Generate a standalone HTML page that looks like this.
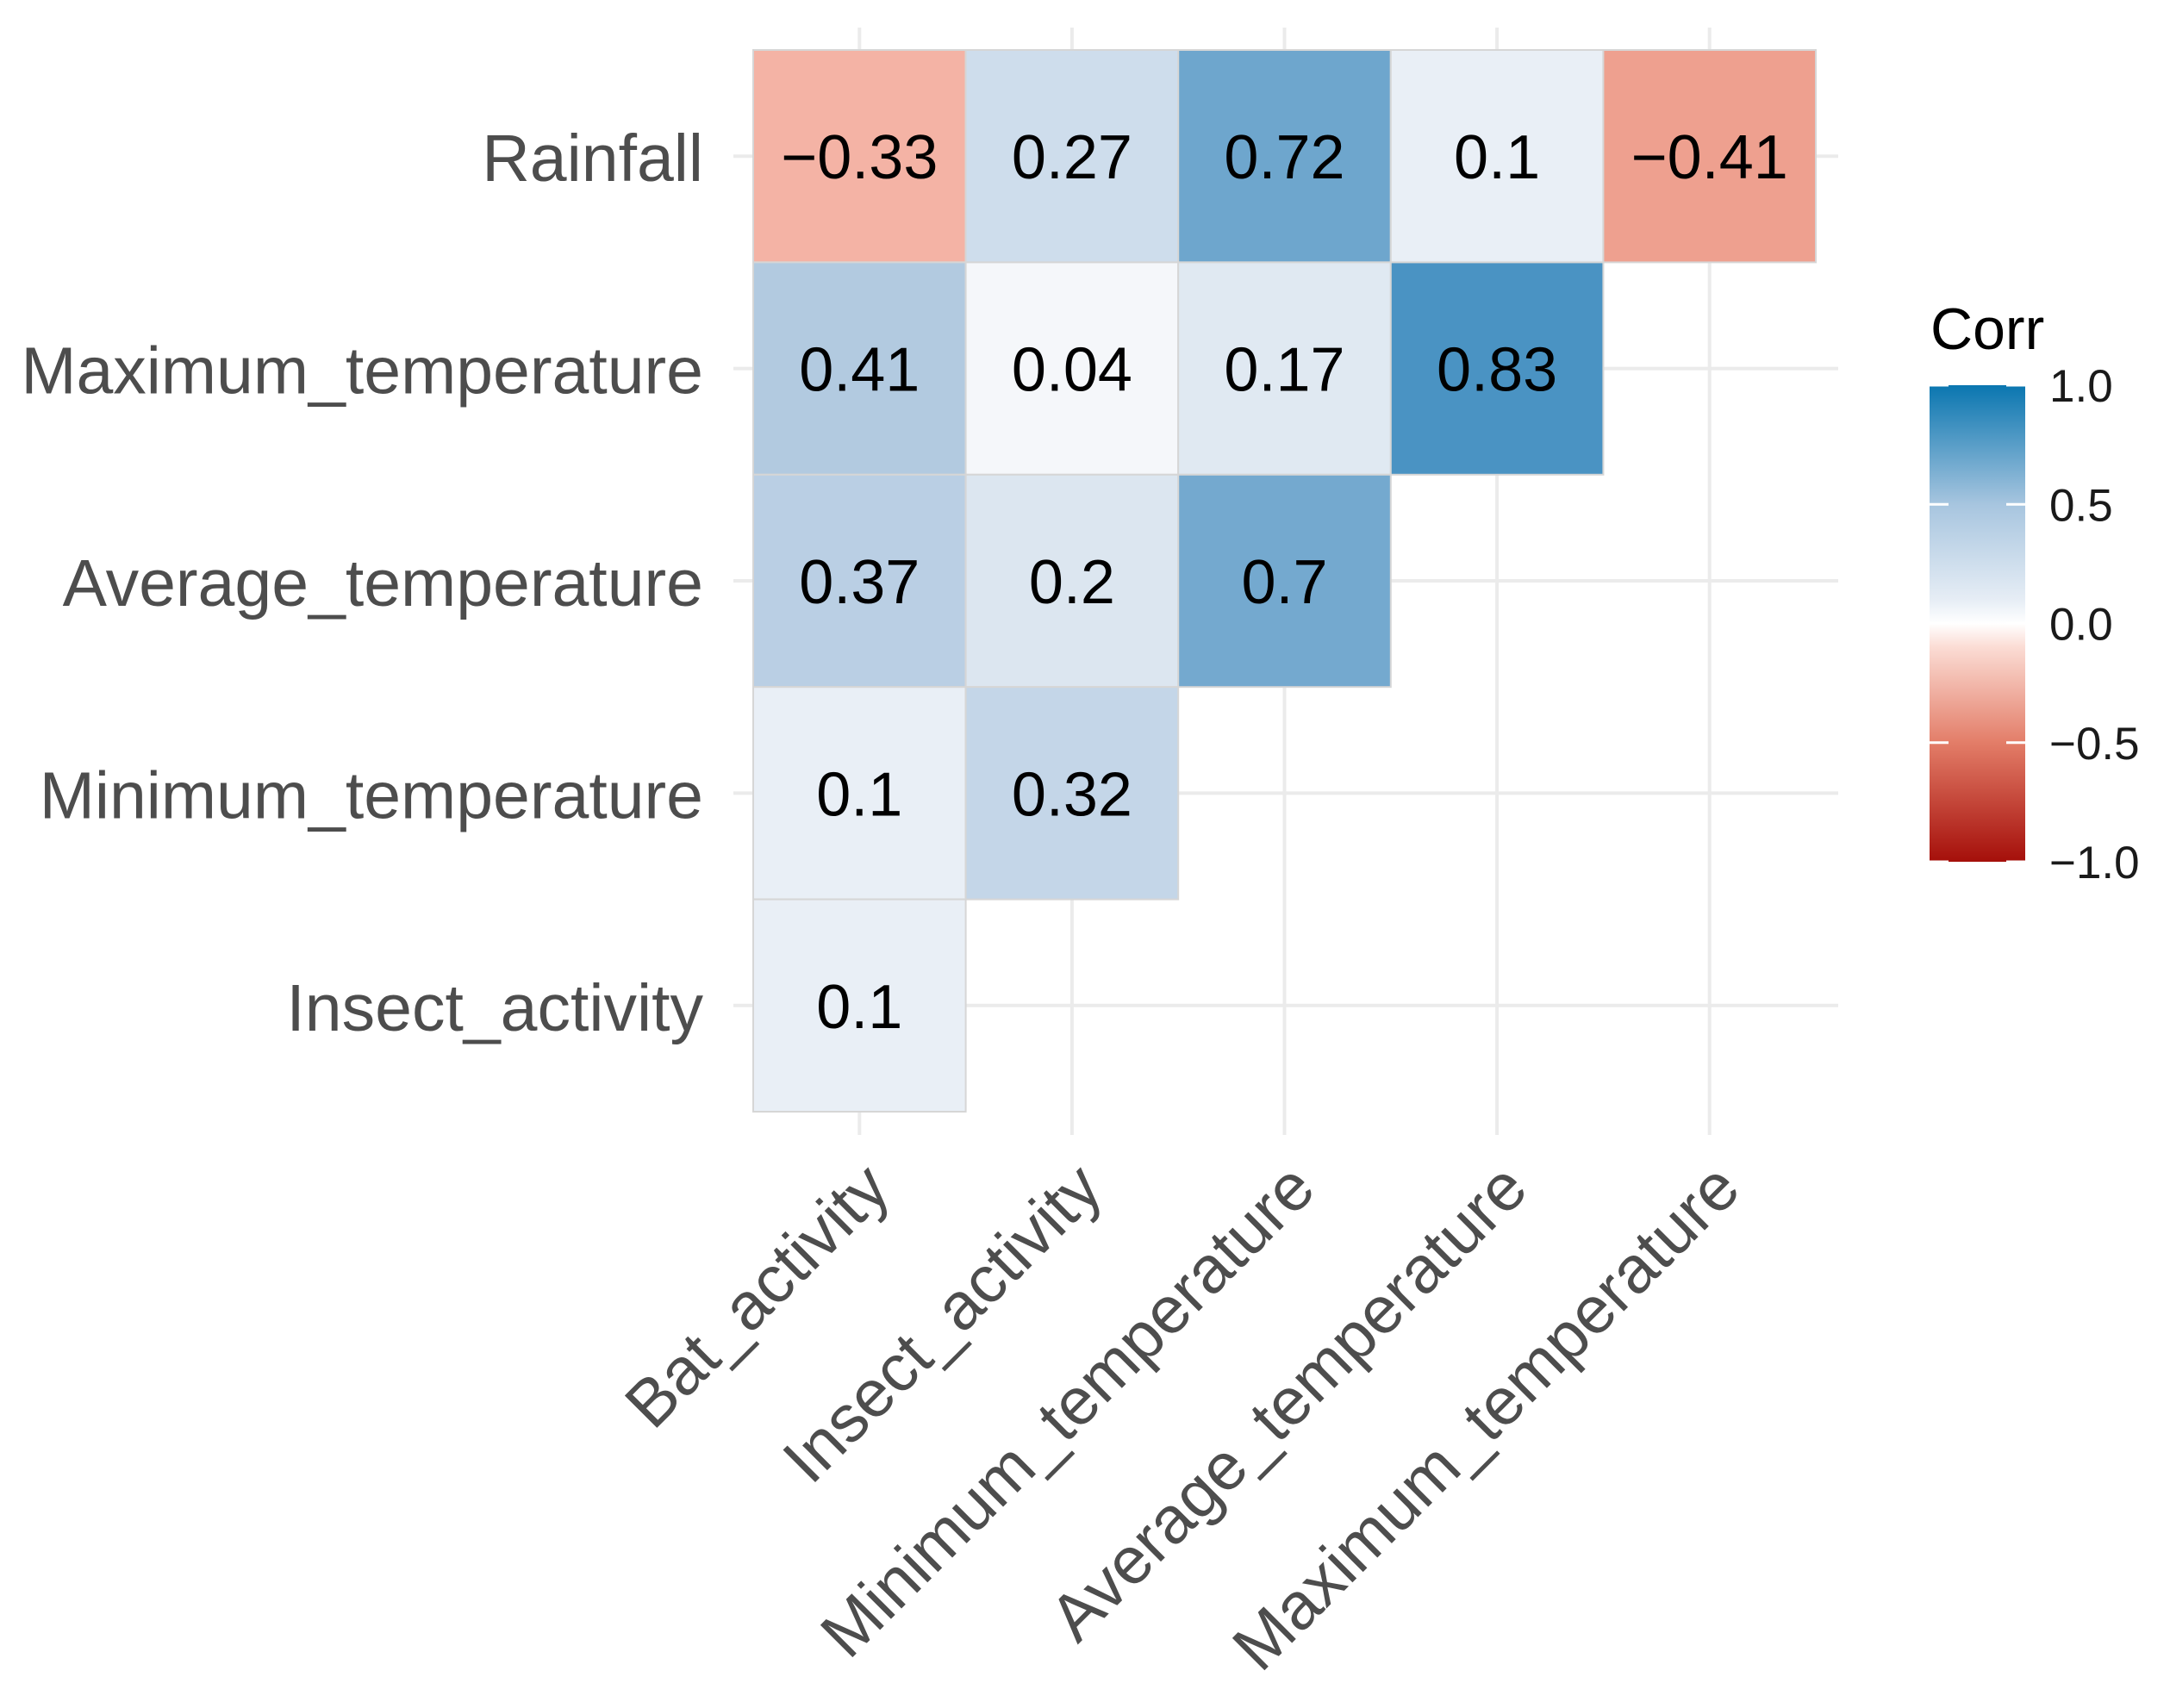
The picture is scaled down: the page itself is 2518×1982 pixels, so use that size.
<!DOCTYPE html>
<html><head><meta charset="utf-8"><style>
html,body{margin:0;padding:0;background:#fff;}
svg{display:block;font-family:"Liberation Sans",Arial,sans-serif;}
</style></head><body>
<svg id="chart" width="2518" height="1982" viewBox="0 0 2518 1982" xmlns="http://www.w3.org/2000/svg">
<defs>
<linearGradient id="grad" x1="0" y1="1" x2="0" y2="0">
<stop offset="0" stop-color="#a50f0a"/>
<stop offset="0.25" stop-color="#e37d68"/>
<stop offset="0.45" stop-color="#fbdcd4"/>
<stop offset="0.5" stop-color="#ffffff"/>
<stop offset="0.55" stop-color="#e6edf5"/>
<stop offset="0.75" stop-color="#a7c5df"/>
<stop offset="1" stop-color="#0a76b0"/>
</linearGradient>
</defs>
<g id="grid"></g>
<g id="cells"></g>
<g id="ylabels"></g>
<g id="xlabels"></g>
<g id="legend">
<text x="2240" y="405" font-size="68" fill="#000">Corr</text>
<rect x="2239" y="447" width="111" height="553" fill="url(#grad)"/>
</g>
</svg>
<script>
const rowLabels = ["Rainfall","Maximum_temperature","Average_temperature","Minimum_temperature","Insect_activity"];
const colLabels = ["Bat_activity","Insect_activity","Minimum_temperature","Average_temperature","Maximum_temperature"];
const rowRainfall = [-0.33, 0.27, 0.72, 0.1, -0.41];
const rowMaxTemp = [0.41, 0.04, 0.17, 0.83];
const rowAvgTemp = [0.37, 0.2, 0.7];
const rowMinTemp = [0.1, 0.32];
const rowInsect = [0.1];
const legendTicks = [1.0, 0.5, 0.0, -0.5, -1.0];
const legendTickLabels = ["1.0","0.5","0.0","\u22120.5","\u22121.0"];

const rows = [rowRainfall,rowMaxTemp,rowAvgTemp,rowMinTemp,rowInsect];
const NS="http://www.w3.org/2000/svg";
const X0=874, Y0=58, CW=246.6, CH=246.4;
const xCenter = i => X0 + CW*(i+0.5);
const yCenter = j => Y0 + CH*(j+0.5);
const legY = v => 447 + (1 - v)/2*553;

const stops=[[-1,[165,15,10]],[-0.5,[227,125,104]],[-0.41,[238,160,143]],[-0.33,[244,179,165]],[-0.1,[251,228,222]],[0,[255,255,255]],[0.04,[245,247,250]],[0.1,[233,239,246]],[0.2,[220,230,240]],[0.3,[200,217,234]],[0.41,[178,202,224]],[0.7,[116,169,207]],[0.83,[74,147,195]],[1,[10,118,176]]];
function color(v){
  for(let k=0;k<stops.length-1;k++){
    const a=stops[k],b=stops[k+1];
    if(v>=a[0]&&v<=b[0]){const t=(v-a[0])/(b[0]-a[0]||1);
      const c=a[1].map((x,i)=>Math.round(x+(b[1][i]-x)*t));return `rgb(${c.join(',')})`;}
  }
  return v<0?"rgb(165,15,10)":"rgb(10,118,176)";
}
function mk(tag,attrs,parent){const e=document.createElementNS(NS,tag);for(const k in attrs)e.setAttribute(k,attrs[k]);parent.appendChild(e);return e;}

const grid=document.getElementById('grid');
colLabels.forEach((c,i)=>{
  const l=mk('line',{x1:xCenter(i),x2:xCenter(i),y1:32,y2:1317,stroke:'#ebebeb','stroke-width':4},grid);
  
  
});
rowLabels.forEach((r,j)=>{
  const l=mk('line',{x1:851,x2:2133,y1:yCenter(j),y2:yCenter(j),stroke:'#ebebeb','stroke-width':4},grid);
  
  
});

const cells=document.getElementById('cells');
rows.forEach((vals,j)=>{
  vals.forEach((v,i)=>{
    const r=mk('rect',{x:X0+CW*i,y:Y0+CH*j,width:CW,height:CH,fill:color(v),stroke:'#d6d6d6','stroke-width':2},cells);
    
    
    const t=mk('text',{x:xCenter(i),y:yCenter(j)+26,'text-anchor':'middle','font-size':72,fill:'#000'},cells);
    t.textContent=(v<0?'\u2212':'')+String(Math.abs(v));
    
    
  });
});

const yl=document.getElementById('ylabels');
rowLabels.forEach((r,j)=>{
  const t=mk('text',{x:816,y:yCenter(j)+29,'text-anchor':'end','font-size':77,fill:'#4d4d4d'},yl);
  t.textContent=r;
  
  
});
const xl=document.getElementById('xlabels');
colLabels.forEach((c,i)=>{
  const px=xCenter(i)+39, py=1383;
  const t=mk('text',{x:px,y:py,'text-anchor':'end','font-size':77,fill:'#4d4d4d',transform:`rotate(-45 ${px} ${py})`},xl);
  t.textContent=c;
  
  
});

const leg=document.getElementById('legend');
legendTicks.forEach((v,k)=>{
  const y=legY(v);
  const a=mk('line',{x1:2239,x2:2261,y1:y,y2:y,stroke:'#fff','stroke-width':3},leg);
  
  
  const b=mk('line',{x1:2328,x2:2350,y1:y,y2:y,stroke:'#fff','stroke-width':3},leg);
  
  
  const t=mk('text',{x:2378,y:y+19,'font-size':53,fill:'#1a1a1a'},leg);
  t.textContent=legendTickLabels[k];
  
  
});
</script>
</body></html>
